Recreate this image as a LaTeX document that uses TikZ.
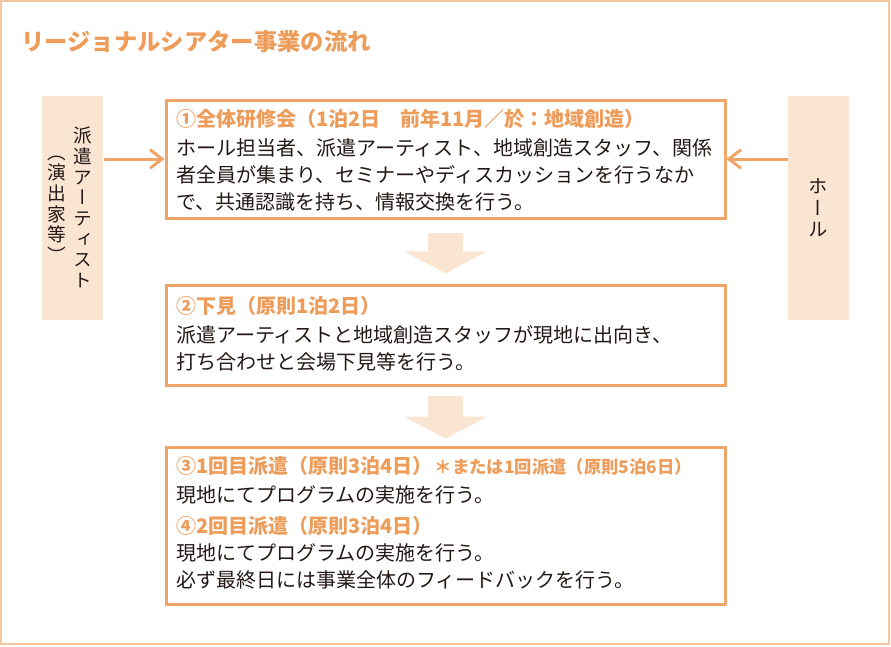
\documentclass[tikz,border=0pt]{standalone}
\usepackage{fontspec}
\usepackage{xcolor}
\setmainfont{Noto Sans CJK JP}
\newfontfamily\vjp[Script=CJK, RawFeature=+vert]{Noto Sans CJK JP}
\usetikzlibrary{positioning, arrows.meta}
\definecolor{lineorange}{HTML}{EFA567}
\definecolor{textorange}{HTML}{EE9C5A}
\definecolor{peach}{HTML}{FAE5D3}
\definecolor{frameorange}{HTML}{F5C6A0}
\definecolor{ink}{HTML}{231815}

\begin{document}
\begin{tikzpicture}[
    x=0.75pt, y=-0.75pt,
    box/.style={draw=lineorange, line width=2.25pt, minimum width=419.25pt, anchor=north west, inner sep=0pt},
    side/.style={fill=peach, minimum width=45.75pt, minimum height=168pt, anchor=north west, inner sep=0pt},
    vtext/.style={ink, align=center, inner sep=0pt, font=\vjp\fontsize{14}{15.5}\selectfont},
    head/.style={textorange, anchor=north west, inner sep=0pt, font=\fontsize{15}{20}\selectfont\bfseries},
    body/.style={ink, align=left, anchor=north west, inner sep=0pt, font=\fontsize{15}{20.25}\selectfont},
    flow/.style={draw=peach, line width=26pt, -{Triangle[width=62pt, length=16.5pt]}},
    feed/.style={draw=lineorange, line width=2.25pt, -{Straight Barb[length=9pt, width=14pt]}}
]
\useasboundingbox (0,0) rectangle (891,646);
\draw[frameorange, line width=1.5pt] (1,1) rectangle (889,644);

% title
\node[textorange, anchor=west, inner sep=0pt, font=\fontsize{17.5}{20}\selectfont\bfseries] (title) at (21,42) {リージョナルシアター事業の流れ};

% side boxes
\node[side] (artist) at (42,96) {};
\node[side] (hall) at (788,96) {};
\node[vtext] (artistname) at (83,207.5) {派\\遣\\ア\\ー\\テ\\ィ\\ス\\ト};
\node[vtext] (artistnote) at (57,209) {（\\演\\出\\家\\等\\）};
\node[vtext, font=\vjp\fontsize{14.5}{16}\selectfont] (hallname) at (818,208) {ホ\\ー\\ル};

% steps
\node[box, minimum height=88.5pt] (kenshu) at (164.5,98.5) {};
\node[box, minimum height=75pt] (shitami) at (164.5,284) {};
\node[box, minimum height=117.75pt] (haken) at (164.5,446) {};

\node[head] (kenshuhead) at (176,109) {①全体研修会（1泊2日　前年11月／於：地域創造）};
\node[body] (kenshubody) at (176,138) {ホール担当者、派遣アーティスト、地域創造スタッフ、関係\\者全員が集まり、セミナーやディスカッションを行うなか\\で、共通認識を持ち、情報交換を行う。};

\node[head] (shitamihead) at (176,296) {②下見（原則1泊2日）};
\node[body] (shitamibody) at (176,325) {派遣アーティストと地域創造スタッフが現地に出向き、\\打ち合わせと会場下見等を行う。};

\node[head] (haken1head) at (176,456) {③1回目派遣（原則3泊4日）\hspace{0.1em}{\fontsize{13}{14}\selectfont ＊または1回派遣（原則5泊6日）}};
\node[body] (haken1body) at (176,485) {現地にてプログラムの実施を行う。};
\node[head] (haken2head) at (176,516) {④2回目派遣（原則3泊4日）};
\node[body] (haken2body) at (176,543) {現地にてプログラムの実施を行う。\\必ず最終日には事業全体のフィードバックを行う。};

% connectors
\draw[feed] (artist.east |- kenshu.west) -- (kenshu.west);
\draw[feed] (hall.west |- kenshu.east) -- (kenshu.east);
\draw[flow, shorten <=10pt, shorten >=8pt] (kenshu.south) -- (shitami.north);
\draw[flow, shorten <=7pt, shorten >=5.5pt] (shitami.south) -- (haken.north);
\end{tikzpicture}
\end{document}
